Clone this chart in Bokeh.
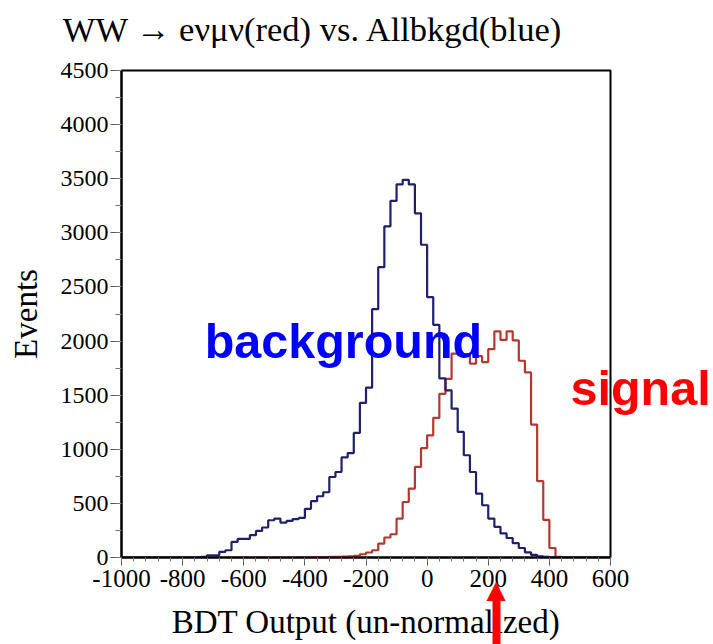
from bokeh.plotting import figure
from bokeh.models import (Range1d, Label, SingleIntervalTicker, FixedTicker,
                          PrintfTickFormatter, LinearAxis)
from bokeh.embed import file_html
from bokeh.resources import INLINE

# ---------------- data ----------------
bin_lo = -1000
bin_width = 20
n_bins = 80

# background (blue) counts per bin, bins of width 20 from -1000 to 600
blue_counts = [
    0, 0, 0, 0, 0, 0, 0, 0, 0, 0,                      # -1000 .. -820
    0, 0, 0, 5, 20, 20, 52, 67, 144, 172,              # -800 .. -620
    172, 206, 246, 277, 344, 360, 323, 338, 355, 366,  # -600 .. -420
    450, 520, 566, 603, 744, 790, 925, 965, 1151, 1428,  # -400 .. -220
    1570, 2295, 2683, 3060, 3295, 3447, 3490, 3447, 3180, 2890,  # -200 .. -20
    2406, 2150, 1655, 1545, 1376, 1160, 945, 790, 591, 483,  # 0 .. 180
    360, 283, 222, 180, 132, 88, 48, 25, 10, 5,        # 200 .. 380
    2, 0, 0, 0, 0, 0, 0, 0, 0, 0,                      # 400 .. 580
]

# signal (red) counts per bin
red_counts = [
    0, 0, 0, 0, 0, 0, 0, 0, 0, 0,
    0, 0, 0, 0, 0, 0, 0, 0, 0, 0,
    0, 0, 0, 0, 0, 0, 0, 0, 0, 0,
    0, 2, 3, 4, 5, 6, 8, 10, 15, 30,
    46, 67, 129, 185, 215, 360, 513, 637, 837, 1010,
    1129, 1290, 1512, 1650, 1884, 1870, 1880, 1791, 1860, 1806,
    1925, 2090, 2010, 2090, 2006, 1818, 1710, 1228, 705, 348,
    88, 5, 0, 0, 0, 0, 0, 0, 0, 0,
]

title_text = "WW \u2192 e\u03bd\u03bc\u03bd(red) vs. Allbkgd(blue)"
x_label = "BDT Output (un-normalized)"
y_label = "Events"
x_lim = (-1000, 600)
y_lim = (0, 4500)

# annotation anchors (data units)
title_pos = (-1192, 4884)
bkg_label_pos = (-728, 2000)
sig_label_y = 1562
cut_value = 226            # position of the red cut arrow on the BDT axis
arrow_head_y = -296

# ---------------- figure ----------------
SERIF = "Liberation Serif"
SANS = "Liberation Sans"

p = figure(width=713, height=644, title=None,
           x_range=Range1d(*x_lim), y_range=Range1d(*y_lim),
           output_backend="svg", toolbar_location=None,
           min_border_left=121, min_border_right=102,
           min_border_top=70, min_border_bottom=87)

p.background_fill_color = "white"
p.border_fill_color = "white"
p.outline_line_color = "black"
p.outline_line_width = 2
p.xgrid.visible = False
p.ygrid.visible = False

# axes
p.xaxis.ticker = SingleIntervalTicker(interval=200, num_minor_ticks=5)
p.yaxis.ticker = SingleIntervalTicker(interval=500, num_minor_ticks=2)
p.xaxis.formatter = PrintfTickFormatter(format="%d")
for ax in (p.xaxis[0], p.yaxis[0]):
    ax.axis_line_color = "black"
    ax.axis_line_width = 2
    ax.major_tick_line_color = "#555555"
    ax.minor_tick_line_color = "#777777"
    ax.major_tick_in = 0
    ax.minor_tick_in = 0
    ax.major_label_text_font = SERIF
    ax.major_label_text_color = "black"
    ax.axis_label_text_font = SERIF
    ax.axis_label_text_font_size = "33px"
    ax.axis_label_text_font_style = "normal"
    ax.axis_label_text_color = "black"

p.xaxis.major_tick_out = 8
p.xaxis.minor_tick_out = 4
p.xaxis.major_label_text_font_size = "25px"
p.xaxis.major_label_standoff = 4
p.xaxis.axis_label = x_label
p.xaxis.axis_label_standoff = 14

p.yaxis.major_tick_out = 11
p.yaxis.minor_tick_out = 6
p.yaxis.major_label_text_font_size = "24px"
p.yaxis.major_label_standoff = 2
p.yaxis.axis_label = y_label
p.yaxis.axis_label_standoff = 14

# histograms as step lines
edges = [bin_lo + i * bin_width for i in range(n_bins + 1)]
blue_y = blue_counts + [blue_counts[-1]]
red_y = red_counts + [red_counts[-1]]

p.step(x=edges, y=red_y, mode="after", line_color="#b3392f", line_width=2.2)
p.step(x=edges, y=blue_y, mode="after", line_color="#1f1f6e", line_width=2.2)

# title (as a label in the top panel)
p.add_layout(Label(x=title_pos[0], y=title_pos[1], text=title_text,
                   text_font=SERIF, text_font_size="34.5px", text_color="black",
                   text_align="left", text_baseline="middle"), "above")

# "background" label
p.add_layout(Label(x=bkg_label_pos[0], y=bkg_label_pos[1], text="background",
                   text_font=SANS, text_font_style="bold", text_font_size="48.5px",
                   text_color="#0000ff", text_baseline="middle"))

# "signal" label, drawn on the right side
sig_axis = LinearAxis(ticker=FixedTicker(ticks=[sig_label_y], minor_ticks=[]),
                      major_label_overrides={sig_label_y: "signal"},
                      axis_line_color=None, major_tick_line_color=None,
                      minor_tick_line_color=None,
                      major_tick_out=0, major_tick_in=0, minor_tick_out=0, minor_tick_in=0,
                      major_label_standoff=-40,
                      major_label_text_font=SANS, major_label_text_font_style="bold",
                      major_label_text_font_size="48.5px", major_label_text_color="#ff0000")
p.add_layout(sig_axis, "right")

# red cut arrow below the x axis: shaft (a thick tick) and head
shaft_axis = LinearAxis(ticker=FixedTicker(ticks=[cut_value], minor_ticks=[]),
                        major_label_overrides={cut_value: " "},
                        axis_line_color=None, major_tick_line_color="#ff0000",
                        major_tick_line_width=8, major_tick_line_cap="butt",
                        major_tick_in=45, major_tick_out=7,
                        minor_tick_line_color=None, minor_tick_in=0, minor_tick_out=0,
                        major_label_standoff=-20, major_label_text_font_size="8px")
p.add_layout(shaft_axis, "below")
p.add_layout(Label(x=cut_value, y=arrow_head_y, text="\u25b2",
                   text_font="DejaVu Sans", text_font_size="25px", text_color="#ff0000",
                   text_align="center", text_baseline="middle"), "above")

open("out.html", "w").write(file_html(p, INLINE))
